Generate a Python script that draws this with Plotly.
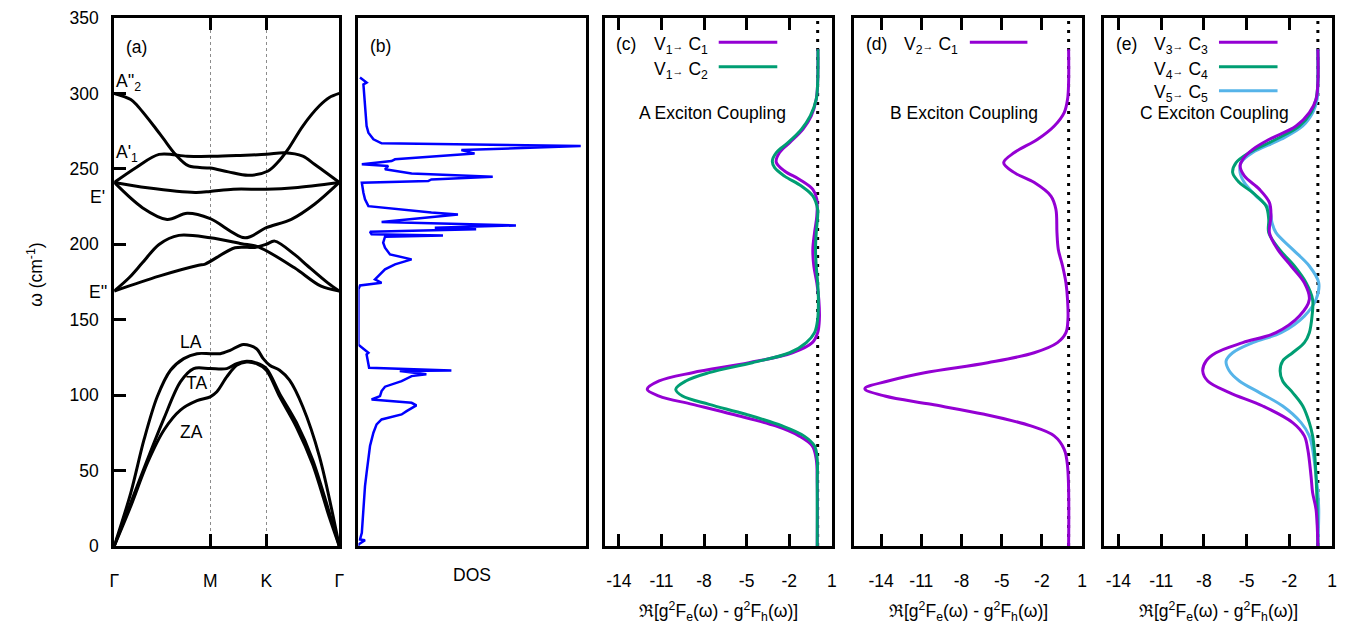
import plotly.graph_objects as go

# ---------------- data ----------------
K_TICKS = [0.0, 0.4265, 0.676, 1.0]
K_LABELS = ["Γ", "M", "K", "Γ"]
W_TICKS = [0, 50, 100, 150, 200, 250, 300, 350]
G_TICKS = [-14, -11, -8, -5, -2, 1]
G_LABELS = ["-14", "-11", "-8", "-5", "-2", "1"]

# phonon branches (k along Γ-M-K-Γ normalised to 0..1, ω in cm^-1)
A2_K = [0, 0.0735, 0.103, 0.176, 0.221, 0.272, 0.331, 0.4265, 0.507, 0.596, 0.684, 0.728, 0.772, 0.838, 0.912, 0.956, 1]
A2_W = [300, 296, 291.8, 278.4, 269.5, 259.6, 251.9, 250.5, 248, 245.7, 248.6, 254.5, 262.9, 278.4, 291.8, 297.3, 300]
A1_K = [0, 0.096, 0.199, 0.324, 0.4265, 0.544, 0.676, 0.757, 0.838, 0.89, 1]
A1_W = [241, 250.8, 259.6, 258.4, 258.3, 258.9, 259.6, 260.7, 258.4, 253, 241]
E1A_K = [0, 0.147, 0.36, 0.4265, 0.529, 0.676, 0.801, 1]
E1A_W = [241, 237.5, 234.4, 235, 236.5, 236.5, 237.5, 241]
E1B_K = [0, 0.125, 0.235, 0.324, 0.4265, 0.581, 0.676, 0.787, 0.89, 1]
E1B_W = [241, 224.3, 216.5, 220.5, 217, 204.3, 211, 216.5, 226.5, 241]
E2A_K = [0, 0.066, 0.125, 0.199, 0.287, 0.4265, 0.566, 0.64, 0.801, 0.919, 1]
E2A_W = [169, 177.8, 187.7, 199.9, 205.9, 204.3, 200.4, 198.3, 184.4, 172.2, 169]
E2B_K = [0, 0.199, 0.375, 0.404, 0.537, 0.625, 0.676, 0.713, 0.801, 0.86, 0.949, 1]
E2B_W = [169, 178.9, 186.1, 186.9, 197.7, 197.9, 200, 202.1, 193.3, 185.6, 174.4, 169]
LA_K = [0, 0.0735, 0.132, 0.191, 0.25, 0.309, 0.368, 0.4265, 0.471, 0.515, 0.574, 0.632, 0.662, 0.691, 0.735, 0.779, 0.838, 0.912, 1]
LA_W = [0, 35.2, 70.3, 98.9, 116.5, 124.2, 127.5, 127.5, 127.5, 129.7, 133.6, 130.8, 124.2, 119.8, 116.5, 109.9, 92.3, 59.3, 0]
TA_K = [0, 0.0735, 0.147, 0.221, 0.294, 0.353, 0.4265, 0.5, 0.544, 0.588, 0.632, 0.676, 0.735, 0.809, 0.882, 0.956, 1]
TA_W = [0, 28.6, 57.1, 84.6, 108.8, 117.6, 117.6, 117.6, 120.9, 122.4, 121.3, 117.6, 101, 82, 57, 22, 0]
ZA_K = [0, 0.0735, 0.147, 0.221, 0.294, 0.368, 0.4265, 0.456, 0.5, 0.544, 0.588, 0.632, 0.676, 0.735, 0.809, 0.882, 0.956, 1]
ZA_W = [0, 26.4, 54.9, 76.9, 90.1, 96.3, 98.9, 102.2, 112.1, 119.8, 122, 120.9, 116.5, 99, 79, 54, 19, 0]

# phonon density of states (ω, DOS in arbitrary units), path as drawn
DOS_W = [0, 1.0, 3.8, 4.3, 8.8, 26.4, 39.7, 48.5, 66.3, 75.1, 80.6, 83.9, 87.2, 89.4, 91.6, 93.2, 94.9,
         97.1, 99.4, 102.7, 105.6, 109.3, 112.6, 113.8, 116.0, 116.4, 118.2, 127.0, 128.1, 132.5, 133.5,
         169.0, 170.1, 172.7, 174.5, 176.7, 180.0, 183.4, 186.7, 190.0, 193.3, 197.7, 201.1, 205.0, 205.9,
         206.6, 208.3, 209.9, 211.0, 212.5, 214.7, 217.6, 219.8, 221.0, 223.6, 225.3, 229.8, 234.2, 240.8,
         241.9, 243.0, 244.8, 247.0, 249.7, 251.9, 253.0, 255.2, 256.3, 260.1, 262.5, 265.1, 266.9, 269.6,
         274.0, 278.4, 291.6, 302.7, 306.0, 307.2, 310.5]
DOS_V = [0.0, 0.0, 0.029, 0.007, 0.015, 0.022, 0.029, 0.036, 0.051, 0.066, 0.080, 0.102, 0.190, 0.212, 0.241, 0.255, 0.234,
         0.058, 0.095, 0.102, 0.117, 0.190, 0.234, 0.299, 0.182, 0.409, 0.047, 0.036, 0.044, 0.007, 0.0,
         0.0, 0.0, 0.007, 0.102, 0.073, 0.095, 0.117, 0.161, 0.234, 0.139, 0.117, 0.109, 0.117, 0.372,
         0.058, 0.051, 0.518, 0.336, 0.693, 0.102, 0.277, 0.438, 0.321, 0.161, 0.044, 0.029, 0.022, 0.015,
         0.307, 0.321, 0.591, 0.234, 0.117, 0.131, 0.015, 0.146, 0.161, 0.511, 0.453, 0.978, 0.102, 0.066,
         0.044, 0.036, 0.029, 0.026, 0.022, 0.036, 0.007]

# (c) A exciton coupling
C1_W = [0, 42, 57.5, 66.3, 73, 79.6, 87.3, 93.9, 99.4, 103.9, 109.4, 114.9, 121.5, 128.1, 134.8, 141.4, 150.2,
        163.4, 174.5, 185.5, 196.6, 207.7, 218.7, 229.8, 236.4, 243, 248.6, 254.5, 260.8, 267.4, 276.2, 285.1,
        296.1, 307.2, 329.3]
C1_V = [-0.03, -0.03, -0.1, -0.38, -1.32, -2.96, -6.0, -8.81, -11.16, -12.0, -11.16, -8.81, -4.83, -1.78, -0.38,
        0.0, 0.12, 0.08, -0.06, -0.27, -0.34, -0.22, -0.06, -0.06, -0.34, -1.28, -2.33, -2.92, -2.68, -1.97, -1.04,
        -0.45, -0.1, 0.0, 0.02]
C2_W = [0, 42, 57.5, 66.3, 73, 79.6, 87.3, 93.9, 99.4, 103.9, 109.4, 114.9, 121.5, 128.1, 134.8, 141.4, 150.2,
        163.4, 174.5, 185.5, 196.6, 207.7, 218.7, 223.1, 232, 238.6, 245.2, 250.8, 255.2, 260.8, 267.4, 276.2,
        285.1, 296.1, 307.2, 329.3]
C2_V = [-0.03, -0.03, -0.03, -0.22, -0.97, -2.49, -5.06, -7.64, -9.52, -9.99, -9.28, -7.64, -4.6, -1.97, -0.8,
        -0.22, 0.0, 0.05, 0.0, -0.1, -0.15, -0.1, 0.0, 0.0, -0.34, -1.15, -2.33, -3.03, -3.19, -2.91, -2.09, -1.15,
        -0.52, -0.1, 0.0, 0.02]

# (d) B exciton coupling
D1_W = [0, 53, 64.1, 73, 79.6, 87.3, 93.9, 99.4, 104.3, 109.4, 114.9, 121.5, 128.1, 134.8, 141.4, 150.2, 163.4,
        174.5, 185.6, 196.6, 207.7, 223.2, 232, 240.9, 247.5, 254.1, 260.8, 269.6, 278.4, 287.3, 296.1, 307.2, 329.3]
D1_V = [0.0, -0.08, -0.33, -1.08, -2.82, -6.29, -10.26, -13.73, -15.22, -13.48, -10.76, -6.04, -2.57, -0.83,
        -0.2, -0.05, -0.08, -0.2, -0.45, -0.77, -0.87, -0.95, -1.32, -2.56, -4.05, -4.85, -4.05, -2.31, -1.07,
        -0.33, -0.08, 0.0, 0.0]

# (e) C exciton coupling
E3_W = [0, 24.3, 35.4, 46.4, 64.1, 73, 81.8, 92.8, 101.7, 109.4, 116, 122.6, 128.1, 134.8, 141.4, 152.4, 163.4,
        174.5, 185.6, 196.6, 207.7, 218.7, 227.6, 236.4, 245.3, 252, 256.3, 262.9, 269.6, 278.4, 287.3, 296.1,
        307.2, 329.3]
E3_V = [0.0, -0.13, -0.37, -0.48, -0.71, -0.95, -1.77, -3.87, -6.21, -7.73, -8.08, -7.85, -7.15, -5.27, -2.94,
        -1.3, -0.6, -0.95, -1.88, -2.82, -3.4, -3.29, -3.4, -4.1, -5.16, -5.46, -5.27, -4.57, -3.4, -1.53, -0.6,
        -0.13, 0.0, 0.0]
E4_W = [0, 24.3, 35.4, 46.4, 64.1, 73, 81.8, 92.8, 101.7, 109.4, 116, 122.6, 128.1, 134.8, 141.4, 152.4, 163.4,
        174.5, 185.6, 196.6, 207.7, 216.5, 225.4, 234.2, 240.9, 247.5, 254.1, 260.8, 269.6, 278.4, 287.3, 296.1,
        307.2, 329.3]
E4_V = [0.0, -0.05, -0.08, -0.13, -0.25, -0.37, -0.6, -1.06, -1.77, -2.47, -2.65, -2.47, -1.77, -0.95, -0.6,
        -0.41, -0.37, -0.83, -1.65, -2.7, -3.45, -3.45, -3.64, -4.57, -5.51, -5.98, -5.74, -4.81, -2.94, -1.3,
        -0.48, -0.13, 0.0, 0.0]
E5_W = [0, 24.3, 35.4, 46.4, 64.1, 73, 81.8, 92.8, 101.7, 109.4, 116, 122.6, 128.1, 134.8, 141.4, 152.4, 163.4,
        174.5, 185.6, 196.6, 207.7, 214.3, 223.2, 232, 240.9, 247.5, 254.1, 260.8, 269.6, 278.4, 287.3, 296.1,
        307.2, 329.3]
E5_V = [0.0, 0.06, 0.0, -0.13, -0.37, -0.6, -1.18, -2.47, -4.1, -5.51, -6.21, -6.44, -5.98, -4.57, -2.58,
        -0.95, -0.13, 0.06, -0.6, -1.77, -2.94, -3.22, -3.4, -4.34, -5.16, -5.46, -5.39, -4.57, -2.58, -1.06,
        -0.36, -0.05, 0.0, 0.0]

PURPLE = "#9400D3"
GREEN = "#009E73"
SKY = "#56B4E9"
FONT = "Liberation Sans, Arial, sans-serif"
FS = 17.5

# ---------------- figure ----------------
OFF = 8                      # page body margin of the html page
W, H = 1354 - OFF, 628 - OFF
MT = 18 - OFF
MB = 628 - 546
PH = H - MT - MB


def px(x):
    return (x - OFF) / W


def py(y):
    return (H - MB - (y - OFF)) / PH


fig = go.Figure()

branches = [(A2_K, A2_W), (A1_K, A1_W), (E1A_K, E1A_W), (E1B_K, E1B_W), (E2A_K, E2A_W),
            (E2B_K, E2B_W), (LA_K, LA_W), (TA_K, TA_W), (ZA_K, ZA_W)]
for kk, ww in branches:
    fig.add_trace(go.Scatter(x=kk, y=ww, mode="lines", xaxis="x", yaxis="y",
                             line=dict(color="black", width=3, shape="spline", smoothing=0.9),
                             showlegend=False, hoverinfo="skip"))

fig.add_trace(go.Scatter(x=DOS_V, y=DOS_W, mode="lines", xaxis="x2", yaxis="y2",
                         line=dict(color="#0000FF", width=2.5), showlegend=False, hoverinfo="skip"))

series = [(C1_V, C1_W, PURPLE, "x3", "y3"), (C2_V, C2_W, GREEN, "x3", "y3"),
          (D1_V, D1_W, PURPLE, "x4", "y4"),
          (E5_V, E5_W, SKY, "x5", "y5"), (E4_V, E4_W, GREEN, "x5", "y5"), (E3_V, E3_W, PURPLE, "x5", "y5")]
for vv, ww, col, xa, ya in series:
    fig.add_trace(go.Scatter(x=vv, y=ww, mode="lines", xaxis=xa, yaxis=ya,
                             line=dict(color=col, width=3, shape="spline", smoothing=1.0),
                             showlegend=False, hoverinfo="skip"))

base = dict(showline=True, linecolor="black", linewidth=3, mirror=True, zeroline=False,
            showgrid=False, tickfont=dict(family=FONT, size=FS, color="black"))

domains = [(110, 336.7), (356, 585), (604, 833), (855.7, 1085), (1107.3, 1337)]

layout = dict(width=W, height=H, margin=dict(l=0, r=0, t=MT, b=MB, pad=0), autosize=False,
              paper_bgcolor="white", plot_bgcolor="white", font=dict(family=FONT, size=FS, color="black"))

layout["xaxis"] = dict(base, domain=[px(domains[0][0]), px(domains[0][1])], range=[0, 1], anchor="y",
                       tickvals=K_TICKS, ticktext=K_LABELS, ticks="inside", ticklen=12, tickwidth=3,
                       tickcolor="black", mirror="ticks", showgrid=True, gridcolor="#8c8c8c", gridwidth=1,
                       griddash="3px,3px", ticklabelstandoff=17)
layout["yaxis"] = dict(base, domain=[0, 1], range=[0, 350], anchor="x", tickvals=W_TICKS,
                       ticks="inside", ticklen=12, tickwidth=3, tickcolor="black", ticklabelstandoff=9)
layout["xaxis2"] = dict(base, domain=[px(domains[1][0]), px(domains[1][1])], range=[0, 1], anchor="y2",
                        ticks="", showticklabels=False)
layout["yaxis2"] = dict(base, domain=[0, 1], range=[0, 350], anchor="x2", ticks="", showticklabels=False)
ranges = {3: [-15, 1], 4: [-16, 1], 5: [-15, 1]}
for i in (3, 4, 5):
    d = domains[i - 1]
    layout[f"xaxis{i}"] = dict(base, domain=[px(d[0]), px(d[1])], range=ranges[i], anchor=f"y{i}",
                               tickvals=G_TICKS, ticktext=G_LABELS, ticks="inside", ticklen=12, tickwidth=3,
                               tickcolor="black", mirror="ticks", ticklabelstandoff=17)
    layout[f"yaxis{i}"] = dict(base, domain=[0, 1], range=[0, 350], anchor=f"x{i}", ticks="",
                               showticklabels=False)
fig.update_layout(**layout)

for i in (3, 4, 5):
    fig.add_shape(type="line", xref=f"x{i}", yref=f"y{i}", x0=0, x1=0, y0=0, y1=350, layer="below",
                  line=dict(color="black", width=3, dash="3px,6px"))

ann = []


def text(x, y, s, xanchor="center", size=FS, angle=0):
    ann.append(dict(xref="paper", yref="paper", x=px(x), y=py(y), text=s, showarrow=False,
                    xanchor=xanchor, yanchor="middle", textangle=angle,
                    font=dict(family=FONT, size=size, color="black")))


# panel labels
text(132.5, 47, "(a)")
text(378, 46, "(b)")
text(625.5, 44, "(c)")
text(878, 44, "(d)")
text(1130, 44, "(e)")

# mode labels in (a)
text(110, 83, "A''<sub>2</sub>", xanchor="left")
text(110, 153, "A'<sub>1</sub>", xanchor="left")
text(103, 197, "E'", xanchor="right")
text(105, 292, "E''", xanchor="right")
text(187.5, 341.5, "LA")
text(193, 383, "TA")
text(187.5, 432, "ZA")

# axis titles
text(30, 275, "ω (cm<sup>-1</sup>)", angle=-90)
text(470, 575, "DOS")
XT = "ℜ[g<sup>2</sup>F<sub>e</sub>(ω) - g<sup>2</sup>F<sub>h</sub>(ω)]"
for d in domains[2:]:
    text((d[0] + d[1]) / 2, 611, XT)

# legends
ARW = "<span style='font-size:11px'>→</span>"
legend_rows = [
    (710, 45, f"V<sub>1</sub>{ARW} C<sub>1</sub>", 719, 778, 42.3, PURPLE),
    (710, 70, f"V<sub>1</sub>{ARW} C<sub>2</sub>", 719, 778, 66.7, GREEN),
    (962, 45, f"V<sub>2</sub>{ARW} C<sub>1</sub>", 972, 1030, 42.3, PURPLE),
    (1214, 45, f"V<sub>3</sub>{ARW} C<sub>3</sub>", 1223, 1282, 42.3, PURPLE),
    (1214, 70, f"V<sub>4</sub>{ARW} C<sub>4</sub>", 1223, 1282, 66.7, GREEN),
    (1214, 94, f"V<sub>5</sub>{ARW} C<sub>5</sub>", 1223, 1282, 90.7, SKY),
]
for tx, ty, s, x0, x1, ly, col in legend_rows:
    text(tx, ty, s, xanchor="right")
    fig.add_shape(type="line", xref="paper", yref="paper", x0=px(x0), x1=px(x1), y0=py(ly), y1=py(ly),
                  line=dict(color=col, width=3))

text(713, 113, "A Exciton Coupling")
text(966, 113, "B Exciton Coupling")
text(1218, 113, "C Exciton Coupling")

fig.update_layout(annotations=ann)
fig.write_html("out.html")
